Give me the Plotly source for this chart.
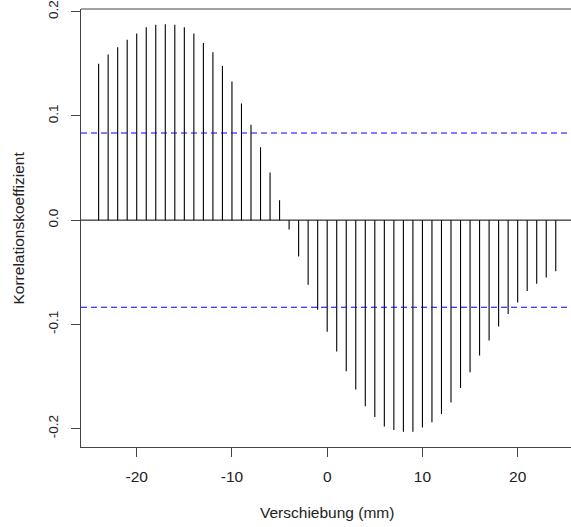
import plotly.graph_objects as go

lags = list(range(-24, 25))
ccf_values = [
    0.150, 0.159, 0.166, 0.173, 0.179, 0.185, 0.1875, 0.188, 0.1875, 0.185,
    0.179, 0.170, 0.161, 0.148, 0.133, 0.112, 0.0915, 0.070, 0.0457, 0.019,
    -0.009, -0.035, -0.062, -0.086, -0.107, -0.126, -0.145, -0.1625, -0.1785, -0.189,
    -0.198, -0.2015, -0.203, -0.203, -0.199, -0.194, -0.186, -0.175, -0.161, -0.146,
    -0.130, -0.1155, -0.102, -0.090, -0.079, -0.068, -0.061, -0.055, -0.049,
]
conf_limit = 0.0836
x_ticks = [-20, -10, 0, 10, 20]
x_ticktext = ["-20", "-10", "0", "10", "20"]
y_ticks = [-0.2, -0.1, 0.0, 0.1, 0.2]
y_ticktext = ["-0.2", "-0.1", "0.0", "0.1", "0.2"]

xs, ys = [], []
for lag, v in zip(lags, ccf_values):
    xs += [lag, lag, None]
    ys += [0, v, None]

fig = go.Figure()
fig.add_trace(go.Scatter(x=xs, y=ys, mode="lines",
                         line=dict(color="black", width=1.1),
                         hoverinfo="skip", showlegend=False))

font = "Liberation Sans, Arial, sans-serif"
y_lo, y_hi = -0.2177, 0.2026
fig.update_layout(
    width=571, height=527,
    margin=dict(l=81, r=0, t=9, b=80, autoexpand=False),
    paper_bgcolor="white", plot_bgcolor="white",
    showlegend=False,
    font=dict(family=font, color="#222"),
    xaxis=dict(range=[-25.85, 25.6], tickvals=x_ticks, ticktext=x_ticktext,
               ticks="outside", ticklen=9,
               tickcolor="#444", showline=True, linecolor="#444", linewidth=1,
               mirror=False, showgrid=False, zeroline=False,
               tickfont=dict(size=15.5, family=font, color="#222"),
               ticklabelstandoff=6),
    yaxis=dict(range=[y_lo, y_hi], tickvals=y_ticks, ticktext=y_ticktext,
               ticks="outside", ticklen=9, tickcolor="#444", showline=True,
               linecolor="#444", linewidth=1, mirror=False, showgrid=False,
               zeroline=False, tickangle=-90, ticklabeloverflow="allow",
               tickfont=dict(size=13.5, family=font, color="#222"),
               ticklabelstandoff=8),
    shapes=[
        dict(type="line", xref="paper", yref="paper", x0=0, x1=1, y0=1, y1=1,
             line=dict(color="#444", width=1.2)),
        dict(type="line", xref="paper", yref="y", x0=0, x1=1, y0=0, y1=0,
             line=dict(color="black", width=1)),
        dict(type="line", xref="paper", yref="y", x0=0, x1=1, y0=conf_limit, y1=conf_limit,
             line=dict(color="#0000ff", width=1.1, dash="6px,4px")),
        dict(type="line", xref="paper", yref="y", x0=0, x1=1, y0=-conf_limit, y1=-conf_limit,
             line=dict(color="#0000ff", width=1.1, dash="6px,4px")),
    ],
    annotations=[
        dict(text="Verschiebung (mm)", x=0, xref="x", y=0, yref="paper",
             yshift=-65, showarrow=False, yanchor="middle",
             font=dict(size=15.5, family=font, color="#222")),
        dict(text="Korrelationskoeffizient", x=0, xref="paper", xshift=-63.5,
             y=(y_lo + y_hi) / 2, yref="y", yanchor="middle", xanchor="center",
             showarrow=False, textangle=-90,
             font=dict(size=15.5, family=font, color="#222")),
    ],
)

fig.write_html("out.html", config={"displayModeBar": False},
               post_script="document.body.style.margin='0';")
